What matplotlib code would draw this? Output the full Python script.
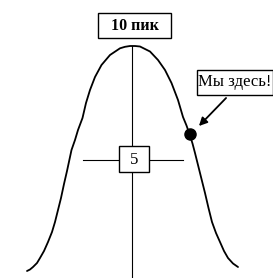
import matplotlib

matplotlib.use("Agg")
import matplotlib.pyplot as plt
from matplotlib.patches import Rectangle

# Bell curve (x, y in picture units, y grows downward).
curve_x = [27, 30, 33, 37, 40, 44, 48, 52, 55, 58, 61, 64, 67, 71.5, 75, 78, 82.5, 86, 90, 95,
           101.5, 110, 120, 125, 130, 135, 140, 150, 158, 165, 171.5, 178, 183, 186.5,
           189.5, 192.5, 195, 200, 205, 208.5, 212, 216, 220, 224, 228, 233, 238]
curve_y = [271, 269.5, 267, 263, 258, 251, 242, 232, 222, 210, 198, 184, 171, 150, 140, 130,
           118, 103, 90, 77, 65, 55, 48.3, 46.8, 46, 46, 46.5, 51.5, 60, 70, 83, 100, 117,
           125.5, 134, 143.5, 153, 173, 193, 208, 222, 233, 242, 251, 258, 263.5, 267]

peak_x = 132
peak_y = 46
mid_y = 160
cross_left = 83
cross_right = 183
bottom_y = 278

we_are_here = (189.5, 134)

peak_label = "10 пик"
mid_label = "5"
here_label = "Мы здесь!"

fig = plt.figure(figsize=(2.73, 2.78), dpi=100)
ax = fig.add_axes([0, 0, 1, 1])
ax.set_xlim(0, 273)
ax.set_ylim(278, 0)
ax.axis("off")

serif = ["Liberation Serif", "DejaVu Serif"]

ax.plot(curve_x, curve_y, color="black", lw=1.3, solid_capstyle="round", solid_joinstyle="round")

# crosshair through the middle
ax.plot([peak_x, peak_x], [peak_y, bottom_y], color="black", lw=0.8)
ax.plot([cross_left, cross_right], [mid_y, mid_y], color="black", lw=0.8)

ax.add_patch(Rectangle((119, 146), 30, 26, facecolor="white", edgecolor="black", lw=1.0, zorder=3))
ax.text(134, 159.5, mid_label, ha="center", va="center", fontsize=12, family=serif, zorder=4)

# peak label
ax.add_patch(Rectangle((98, 13), 73, 25, facecolor="white", edgecolor="black", lw=1.0, zorder=3))
ax.text(134.5, 25.5, peak_label, ha="center", va="center", fontsize=11.5, family=serif,
        fontweight="bold", zorder=4)

# "we are here" callout
ax.plot(*we_are_here, "o", color="black", ms=8, zorder=4)
ax.add_patch(Rectangle((197, 70), 75.5, 25, facecolor="white", edgecolor="black", lw=1.0, zorder=3))
ax.text(235, 82, here_label, ha="center", va="center", fontsize=12, family=serif, zorder=4)
ax.annotate("", xy=(197, 128), xytext=(228, 96),
            arrowprops=dict(arrowstyle="-|>", color="black", lw=1.3, mutation_scale=12))

fig.savefig("out.png", dpi=100)
